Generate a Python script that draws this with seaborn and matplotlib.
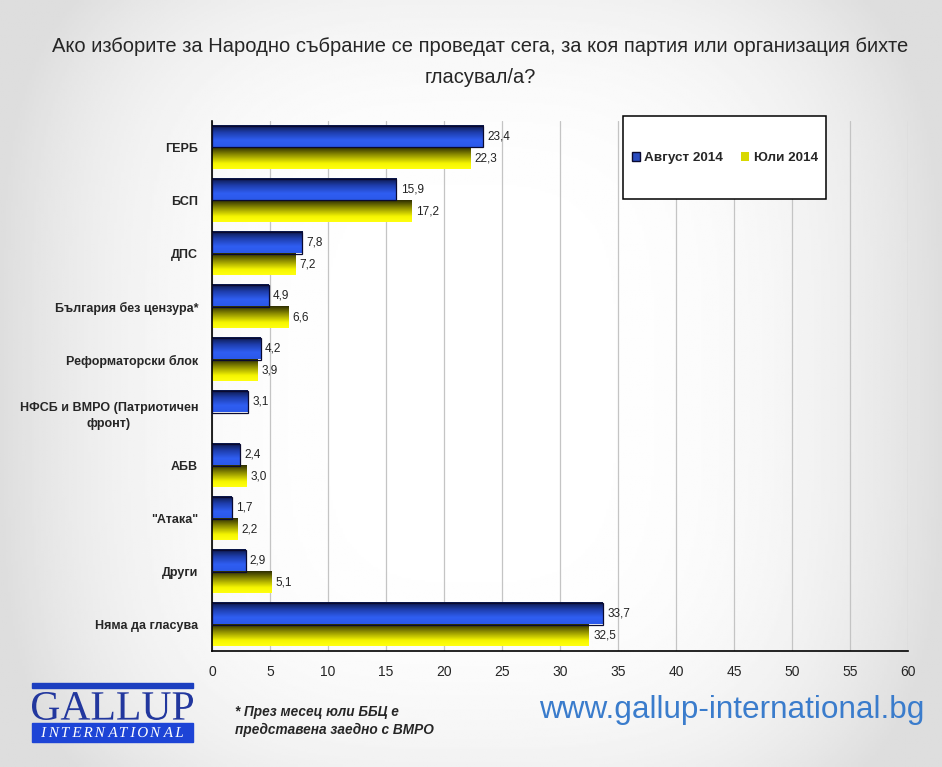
import matplotlib as mpl
mpl.use("Agg")
import matplotlib.pyplot as plt
from matplotlib import font_manager
from matplotlib.colors import LinearSegmentedColormap
from matplotlib.font_manager import FontProperties
from matplotlib.patches import Patch, PathPatch, Rectangle
from matplotlib.textpath import TextPath
from matplotlib.transforms import Affine2D
import numpy as np
import pandas as pd
import seaborn as sns

# data
parties = ["ГЕРБ", "БСП", "ДПС", "България без цензура*", "Реформаторски блок",
           "НФСБ и ВМРО (Патриотичен\nфронт)", "АБВ", "\"Атака\"", "Други", "Няма да гласува"]
august_2014 = [23.4, 15.9, 7.8, 4.9, 4.2, 3.1, 2.4, 1.7, 2.9, 33.7]
july_2014 = [22.3, 17.2, 7.2, 6.6, 3.9, np.nan, 3.0, 2.2, 5.1, 32.5]
series_names = ["Август 2014", "Юли 2014"]
x_ticks = list(range(0, 61, 5))

title = ("Ако изборите за Народно събрание се проведат сега, за коя партия или организация бихте\n"
         "гласувал/а?")
footnote = "* През месец юли ББЦ е\nпредставена заедно с ВМРО"
url = "www.gallup-international.bg"

W, H = 942, 767

df = pd.DataFrame({
    "party": parties * 2,
    "value": august_2014 + july_2014,
    "month": [series_names[0]] * len(parties) + [series_names[1]] * len(parties),
})

sns.set_style("white")
installed = {f.name for f in font_manager.fontManager.ttflist}
narrow = "Liberation Sans Narrow" if "Liberation Sans Narrow" in installed else "Liberation Sans"
plt.rcParams["font.family"] = ["Liberation Sans", "DejaVu Sans"]

fig = plt.figure(figsize=(W / 100, H / 100), dpi=100)

# soft grey vignette behind everything
bg = fig.add_axes([0, 0, 1, 1], zorder=-10)
gx, gy = np.meshgrid(np.linspace(-1, 1, 400), np.linspace(-1, 1, 400))
shade = 1 - 0.13 * np.clip(np.abs(gx) ** 3 + 0.4 * np.abs(gy) ** 4, 0, 1)
bg.imshow(shade, cmap="gray", vmin=0, vmax=1, aspect="auto", extent=(0, 1, 0, 1))
bg.set_axis_off()

ax = fig.add_axes([212 / W, 1 - 651 / H, 696 / W, 530 / H])
ax.patch.set_alpha(0)

sns.barplot(data=df, y="party", x="value", hue="month", orient="h",
            palette=["#2448c8", "#e0e000"], width=0.82, gap=0, legend=False, ax=ax,
            saturation=1)

blue_cmap = LinearSegmentedColormap.from_list(
    "b", [(0, "#0c1848"), (0.35, "#1f3fb0"), (0.7, "#2f5ef2"), (1, "#2b58ea")])
yellow_cmap = LinearSegmentedColormap.from_list(
    "y", [(0, "#2e2e00"), (0.4, "#9c9c00"), (0.75, "#f6f600"), (1, "#ffff10")])
grad = np.linspace(0, 1, 64).reshape(-1, 1)

ax.set_xlim(0, 60)
ylim = ax.get_ylim()
for cont, cmap, edge in zip(ax.containers, [blue_cmap, yellow_cmap], ["#0a0a30", "none"]):
    for p in cont.patches:
        w = p.get_width()
        if not np.isfinite(w) or w == 0:
            continue
        x0 = p.get_x()
        y0 = p.get_y()
        h = p.get_height()
        ax.imshow(grad, cmap=cmap, aspect="auto", origin="upper",
                  extent=(x0, x0 + w, y0 + h, y0), zorder=2, interpolation="bilinear")
        p.set_facecolor("none")
        p.set_edgecolor(edge)
        p.set_linewidth(0.9)
        p.set_zorder(3)
    ax.bar_label(cont, fmt=lambda v: f"{v:.1f}".replace(".", ","), padding=3,
                 fontsize=8.5, color="#222222")
ax.set_ylim(ylim)
ax.set_xlim(0, 60)

ax.set_xticks(x_ticks)
ax.set_xticklabels([str(t) for t in x_ticks], fontfamily=narrow, fontsize=10)
ax.xaxis.grid(True, color="#c4c4c4", linewidth=0.9, zorder=0)
ax.set_axisbelow(True)
ax.tick_params(axis="x", direction="inout", length=6, width=1, color="black", pad=7)
ax.tick_params(axis="y", which="major", length=0, pad=10, labelsize=9)
ax.set_yticks(np.arange(len(parties) + 1) - 0.5, minor=True)
ax.tick_params(axis="y", which="minor", direction="out", length=5, width=1, color="black")
for lab in ax.get_yticklabels():
    lab.set_fontweight("bold")
    lab.set_multialignment("center")
    lab.set_linespacing(1.4)
ax.set_xlabel("")
ax.set_ylabel("")
sns.despine(ax=ax)
for s in ["left", "bottom"]:
    ax.spines[s].set_color("black")
    ax.spines[s].set_linewidth(1.2)

# legend box drawn by hand so it can be as tall as in the original
box = Rectangle((0.59, 0.853), 0.292, 0.1565, transform=ax.transAxes, clip_on=False,
                facecolor="white", edgecolor="black", linewidth=1.1, zorder=4)
ax.add_patch(box)
handles = [Patch(facecolor="#2a4cc0", edgecolor="#0a0a30"),
           Patch(facecolor="#d8d800", edgecolor="none")]
leg = ax.legend(handles, series_names, loc="center", ncol=2, frameon=False,
                bbox_to_anchor=(0.7365, 0.930), borderaxespad=0,
                handlelength=0.65, handleheight=0.65, handletextpad=0.3, columnspacing=1.3,
                prop={"weight": "bold", "size": 9.7})
leg.set_zorder(5)

fig.text(480 / W, 1 - 62 / H, title, ha="center", va="center", fontsize=14.5,
         fontfamily=narrow, linespacing=1.85)


def outline(s, family, style):
    return TextPath((0, 0), s, size=50, prop=FontProperties(family=family, style=style))


def fit_text(s, left, top, right, bottom, family, style, color):
    # place a text outline so that its ink fills the given pixel box
    tp = outline(s, family, style)
    ext = tp.get_extents()
    tr = (Affine2D().translate(-ext.x0, -ext.y0)
          .scale((right - left) / ext.width, (bottom - top) / ext.height)
          .translate(left, H - bottom).scale(1 / W, 1 / H))
    fig.patches.append(PathPatch(tr.transform_path(tp), transform=fig.transFigure,
                                 facecolor=color, edgecolor="none"))


# logo
fig.patches.append(Rectangle((32 / W, 1 - 688 / H), 161 / W, 5 / H,
                             transform=fig.transFigure, color="#1c3fc0"))
fit_text("GALLUP", 32, 692, 193, 720, "Liberation Serif", "normal", "#22379e")
fig.patches.append(Rectangle((32 / W, 1 - 742 / H), 161 / W, 19 / H,
                             transform=fig.transFigure, color="#1d44d6"))
letters = "INTERNATIONAL"
k = 10 / 33.0  # cap height of the 50-unit serif glyphs is about 33
paths = [outline(ch, "Liberation Serif", "italic") for ch in letters]
widths = [p.get_extents().width * k for p in paths]
gap = (142 - sum(widths)) / (len(letters) - 1)
cx = 41.0
for p, wd in zip(paths, widths):
    ext = p.get_extents()
    tr = (Affine2D().translate(-ext.x0, 0).scale(k, k)
          .translate(cx, H - 737).scale(1 / W, 1 / H))
    fig.patches.append(PathPatch(tr.transform_path(p), transform=fig.transFigure,
                                 facecolor="white", edgecolor="none"))
    cx += wd + gap

fig.text(235 / W, 1 - 721 / H, footnote, ha="left", va="center", fontsize=9.8,
         fontweight="bold", style="italic", linespacing=1.4)
fig.text(924 / W, 1 - 718 / H, url, ha="right", va="baseline", fontsize=22.7,
         color="#3a7ccc")

fig.savefig("out.png", dpi=100)
plt.close(fig)
